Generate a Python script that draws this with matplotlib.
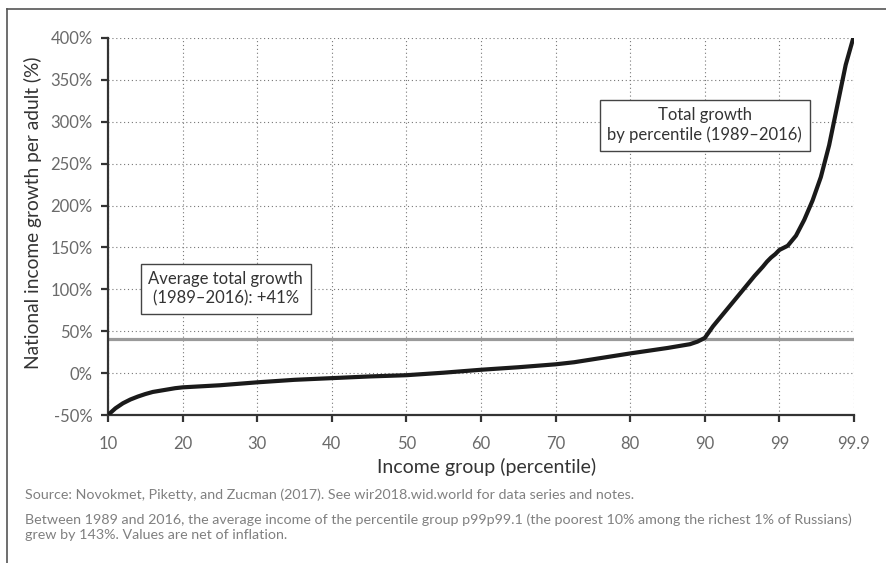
import numpy as np
import matplotlib
matplotlib.use('Agg')
import matplotlib.pyplot as plt
from matplotlib.lines import Line2D

plt.rcParams['font.family'] = ['Lato', 'DejaVu Sans']

# percentile groups and total income growth 1989-2016 (%)
percentile = [10, 11, 12, 13, 14, 15, 16, 17, 18, 19, 20, 25, 30, 35, 40, 45, 50,
              55, 60, 65, 70, 72.5, 75, 77.5, 80, 85, 88, 89, 90, 91, 92, 93, 94, 95, 96, 97,
              97.5, 98, 98.5, 99, 99.1, 99.2, 99.3, 99.4, 99.5, 99.6, 99.7, 99.8, 99.9]
growth = [-50, -42, -36, -31.5, -28, -25, -22.5, -21, -19.5, -18, -17, -14.5, -11, -8, -6, -4, -2.5,
          0.5, 4, 7, 10.5, 13, 16.5, 20, 23.5, 30, 34.5, 37.5, 42, 56, 68, 80, 92, 104, 116, 127,
          133, 138, 142, 147, 152, 164, 183, 206, 234, 272, 320, 368, 403]
average_growth = 41

tick_pcts = [10, 20, 30, 40, 50, 60, 70, 80, 90, 99, 99.9]
tick_labels = ['10', '20', '30', '40', '50', '60', '70', '80', '90', '99', '99.9']
y_ticks = list(range(-50, 401, 50))

# x axis: equal spacing between 10..90 by tens, then 90 -> 99 -> 99.9
knots_p = [10, 90, 99, 99.9]
knots_x = [0, 8, 9, 10]


def fwd(p):
    return np.interp(p, knots_p, knots_x)


def inv(x):
    return np.interp(x, knots_x, knots_p)


fig = plt.figure(figsize=(8.87, 5.63), dpi=100)
ax = fig.add_axes([108 / 887, 1 - 415 / 563, (854 - 108) / 887, (415 - 38) / 563])
ax.set_xscale('function', functions=(fwd, inv))

ax.axhline(average_growth, color='#9a9a9a', lw=2.3, zorder=2)
ax.plot(percentile, growth, color='#1a1a1a', lw=3, zorder=3, solid_capstyle='round')

ax.set_xlim(10, 99.9)
ax.set_ylim(-50, 400)
ax.set_xticks(tick_pcts)
ax.set_xticklabels(tick_labels)
ax.set_yticks(y_ticks)
ax.set_yticklabels([f'{v}%' for v in y_ticks])

ax.grid(True, color='#777777', linestyle=(0, (1, 2.5)), lw=0.8)
ax.set_axisbelow(True)
for s in ['top', 'right']:
    ax.spines[s].set_visible(False)
for s in ['left', 'bottom']:
    ax.spines[s].set_color('#333333')
    ax.spines[s].set_linewidth(1.6)
ax.tick_params(axis='both', colors='#333333', width=1.6, length=5,
               labelsize=12, labelcolor='#6a6a6a')
ax.tick_params(axis='x', pad=10)
ax.tick_params(axis='y', pad=6)

ax.set_ylabel('National income growth per adult (%)', fontsize=13.8, color='#333333')
ax.yaxis.set_label_coords(-0.088, 0.536)
ax.set_xlabel('Income group (percentile)', fontsize=14, color='#333333')
ax.xaxis.set_label_coords(0.508, -0.115)

box = dict(boxstyle='square,pad=0.45', fc='white', ec='#444444', lw=1)
ax.text(0.158, 0.334, 'Average total growth\n(1989\u20132016): +41%', transform=ax.transAxes,
        ha='center', va='center', fontsize=12, color='#333333', bbox=box, zorder=5,
        linespacing=1.25)
ax.text(0.800, 0.769, 'Total growth\nby percentile (1989\u20132016)', transform=ax.transAxes,
        ha='center', va='center', fontsize=12, color='#333333', bbox=box, zorder=5,
        linespacing=1.25)

fig.text(25 / 887, 1 - 495 / 563,
         'Source: Novokmet, Piketty, and Zucman (2017). See wir2018.wid.world for data series and notes.',
         fontsize=10.3, color='#808080', va='center')
fig.text(25 / 887, 1 - 527 / 563,
         'Between 1989 and 2016, the average income of the percentile group p99p99.1 (the poorest 10% among the richest 1% of Russians)\n'
         'grew by 143%. Values are net of inflation.',
         fontsize=10.3, color='#808080', va='center', linespacing=1.3)

# frame around the figure (left and top edges visible)
fig.add_artist(Line2D([7 / 887, 7 / 887], [0, 1 - 9 / 563], color='#555555', lw=1.2))
fig.add_artist(Line2D([7 / 887, 1], [1 - 9 / 563, 1 - 9 / 563], color='#555555', lw=1.2))

fig.savefig('out.png', dpi=100)
